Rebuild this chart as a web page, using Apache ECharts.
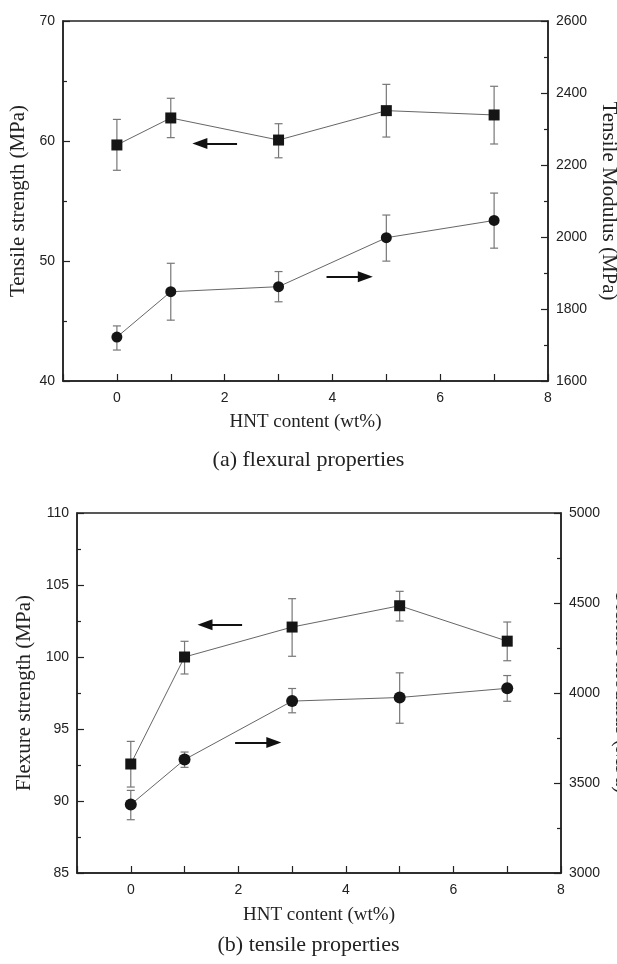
<!DOCTYPE html>
<html>
<head>
<meta charset="utf-8">
<script src="https://cdn.jsdelivr.net/npm/echarts@6/dist/echarts.min.js"></script>
<style>
html,body{margin:0;padding:0;background:#fff;}
#chart{width:617px;height:964px;}
</style>
</head>
<body>
<div id="chart"></div>
<script>
// ---- Data ----
const hntContent = [0, 1, 3, 5, 7];

// (a) top panel
const aStrength = [59.67, 61.92, 60.08, 62.53, 62.17];
const aStrengthLow = [57.56, 60.28, 58.6, 60.33, 59.75];
const aStrengthHigh = [61.8, 63.56, 61.44, 64.72, 64.56];
const aModulus = [1722, 1848, 1862, 1998, 2046];
const aModulusLow = [1686, 1769, 1820, 1933, 1969];
const aModulusHigh = [1753, 1927, 1904, 2061, 2122];

// (b) bottom panel
const bStrength = [92.57, 100.0, 102.08, 103.56, 101.1];
const bStrengthLow = [90.97, 98.82, 100.05, 102.5, 99.74];
const bStrengthHigh = [94.14, 101.09, 104.05, 104.56, 102.43];
const bModulus = [3380, 3630, 3955, 3975, 4026];
const bModulusLow = [3296, 3587, 3890, 3832, 3954];
const bModulusHigh = [3459, 3672, 4025, 4112, 4097];

// annotation arrows: [xStart, xEnd, y] in data units of the axis they point to
const aArrowLeft = [2.23, 1.54, 59.8];
const aArrowRight = [3.89, 4.61, 48.69];
const bArrowLeft = [2.07, 1.38, 102.24];
const bArrowRight = [1.94, 2.66, 94.07];

const xTickLabels = ['0', '2', '4', '6', '8'];

// ---- Helpers ----
const SANS = 'Liberation Sans, Arial, sans-serif';
const SERIF = 'Liberation Serif, Times New Roman, serif';

function pairs(xs, ys) { return xs.map((x, i) => [x, ys[i]]); }
function errData(xs, lo, hi) { return xs.map((x, i) => [x, lo[i], hi[i]]); }

function errorSeries(xi, yi, data) {
  return {
    type: 'custom', xAxisIndex: xi, yAxisIndex: yi, z: 1, silent: true,
    data: data,
    renderItem: function (params, api) {
      const x = api.value(0);
      const lo = api.coord([x, api.value(1)]);
      const hi = api.coord([x, api.value(2)]);
      const w = 4;
      const st = { stroke: '#777', lineWidth: 1.2 };
      return {
        type: 'group', children: [
          { type: 'line', shape: { x1: lo[0], y1: lo[1], x2: hi[0], y2: hi[1] }, style: st },
          { type: 'line', shape: { x1: lo[0] - w, y1: lo[1], x2: lo[0] + w, y2: lo[1] }, style: st },
          { type: 'line', shape: { x1: hi[0] - w, y1: hi[1], x2: hi[0] + w, y2: hi[1] }, style: st }
        ]
      };
    }
  };
}

function arrowLine(a) {
  return [[
    { coord: [a[0], a[2]], symbol: 'none' },
    { coord: [a[1], a[2]], symbol: 'triangle', symbolSize: [11, 15] }
  ]];
}

function lineSeries(xi, yi, data, symbol, size, arrow) {
  const s = {
    type: 'line', xAxisIndex: xi, yAxisIndex: yi, z: 3,
    data: data, symbol: symbol, symbolSize: size,
    lineStyle: { color: '#666', width: 1 },
    itemStyle: { color: '#151515' },
    animation: false, silent: true
  };
  if (arrow) {
    s.markLine = {
      silent: true, animation: false,
      label: { show: false },
      lineStyle: { color: '#111', width: 2, type: 'solid' },
      data: arrowLine(arrow)
    };
  }
  return s;
}

function xAxisCfg(gi) {
  return {
    type: 'value', gridIndex: gi, min: -1, max: 8, interval: 1,
    name: 'HNT content (wt%)', nameLocation: 'middle', nameGap: gi === 0 ? 32 : 33,
    nameTextStyle: { fontFamily: SERIF, fontSize: 19, color: '#222' },
    axisLine: { show: true, onZero: false, lineStyle: { color: '#222', width: 1.5 } },
    axisTick: { show: true, inside: true, length: 7, lineStyle: { color: '#222', width: 1.2 } },
    axisLabel: {
      fontFamily: SANS, fontSize: 14, color: '#222', margin: 10,
      formatter: function (v) { return xTickLabels.indexOf(String(v)) >= 0 ? String(v) : ''; }
    },
    splitLine: { show: false }
  };
}

function yAxisCfg(gi, pos, min, max, interval, name, nameGap, rot) {
  return {
    type: 'value', gridIndex: gi, position: pos, min: min, max: max, interval: interval,
    name: name, nameLocation: 'middle', nameGap: nameGap, nameRotate: rot,
    nameTextStyle: { fontFamily: SERIF, fontSize: 21, color: '#222' },
    axisLine: { show: true, onZero: false, lineStyle: { color: '#222', width: 1.5 } },
    axisTick: { show: true, inside: true, length: 7, lineStyle: { color: '#222', width: 1.2 } },
    minorTick: { show: true, splitNumber: 2, length: 4, lineStyle: { color: '#222', width: 1.2 } },
    axisLabel: { fontFamily: SANS, fontSize: 14, color: '#222', margin: 8, formatter: function (v) { return String(v); } },
    splitLine: { show: false }
  };
}

const chart = echarts.init(document.getElementById('chart'), null, { renderer: 'canvas' });
chart.setOption({
  animation: false,
  backgroundColor: '#fff',
  grid: [
    { left: 63, top: 21, width: 485, height: 360, show: true, borderColor: '#222', borderWidth: 1.5, backgroundColor: 'transparent', containLabel: false, outerBoundsMode: 'none' },
    { left: 77, top: 513, width: 484, height: 360, show: true, borderColor: '#222', borderWidth: 1.5, backgroundColor: 'transparent', containLabel: false, outerBoundsMode: 'none' }
  ],
  xAxis: [xAxisCfg(0), xAxisCfg(1)],
  yAxis: [
    yAxisCfg(0, 'left', 40, 70, 10, 'Tensile strength (MPa)', 33, 90),
    yAxisCfg(0, 'right', 1600, 2600, 200, 'Tensile Modulus (MPa)', 44, -90),
    yAxisCfg(1, 'left', 85, 110, 5, 'Flexure strength (MPa)', 35, 90),
    yAxisCfg(1, 'right', 3000, 5000, 500, 'Flexure modulus (MPa)', 46, -90)
  ],
  graphic: [
    { type: 'text', left: 'center', top: 449, style: { text: '(a) flexural properties', font: '22px ' + SERIF, fill: '#222' }, x: -8 },
    { type: 'text', left: 'center', top: 934, style: { text: '(b) tensile properties', font: '22px ' + SERIF, fill: '#222' } }
  ],
  series: [
    errorSeries(0, 0, errData(hntContent, aStrengthLow, aStrengthHigh)),
    errorSeries(0, 1, errData(hntContent, aModulusLow, aModulusHigh)),
    lineSeries(0, 0, pairs(hntContent, aStrength), 'rect', 11, aArrowLeft),
    lineSeries(0, 1, pairs(hntContent, aModulus), 'circle', 11, null),
    lineSeries(0, 0, [], 'none', 0, aArrowRight),
    errorSeries(1, 2, errData(hntContent, bStrengthLow, bStrengthHigh)),
    errorSeries(1, 3, errData(hntContent, bModulusLow, bModulusHigh)),
    lineSeries(1, 2, pairs(hntContent, bStrength), 'rect', 11, bArrowLeft),
    lineSeries(1, 3, pairs(hntContent, bModulus), 'circle', 12, null),
    lineSeries(1, 2, [], 'none', 0, bArrowRight)
  ]
});
</script>
</body>
</html>
